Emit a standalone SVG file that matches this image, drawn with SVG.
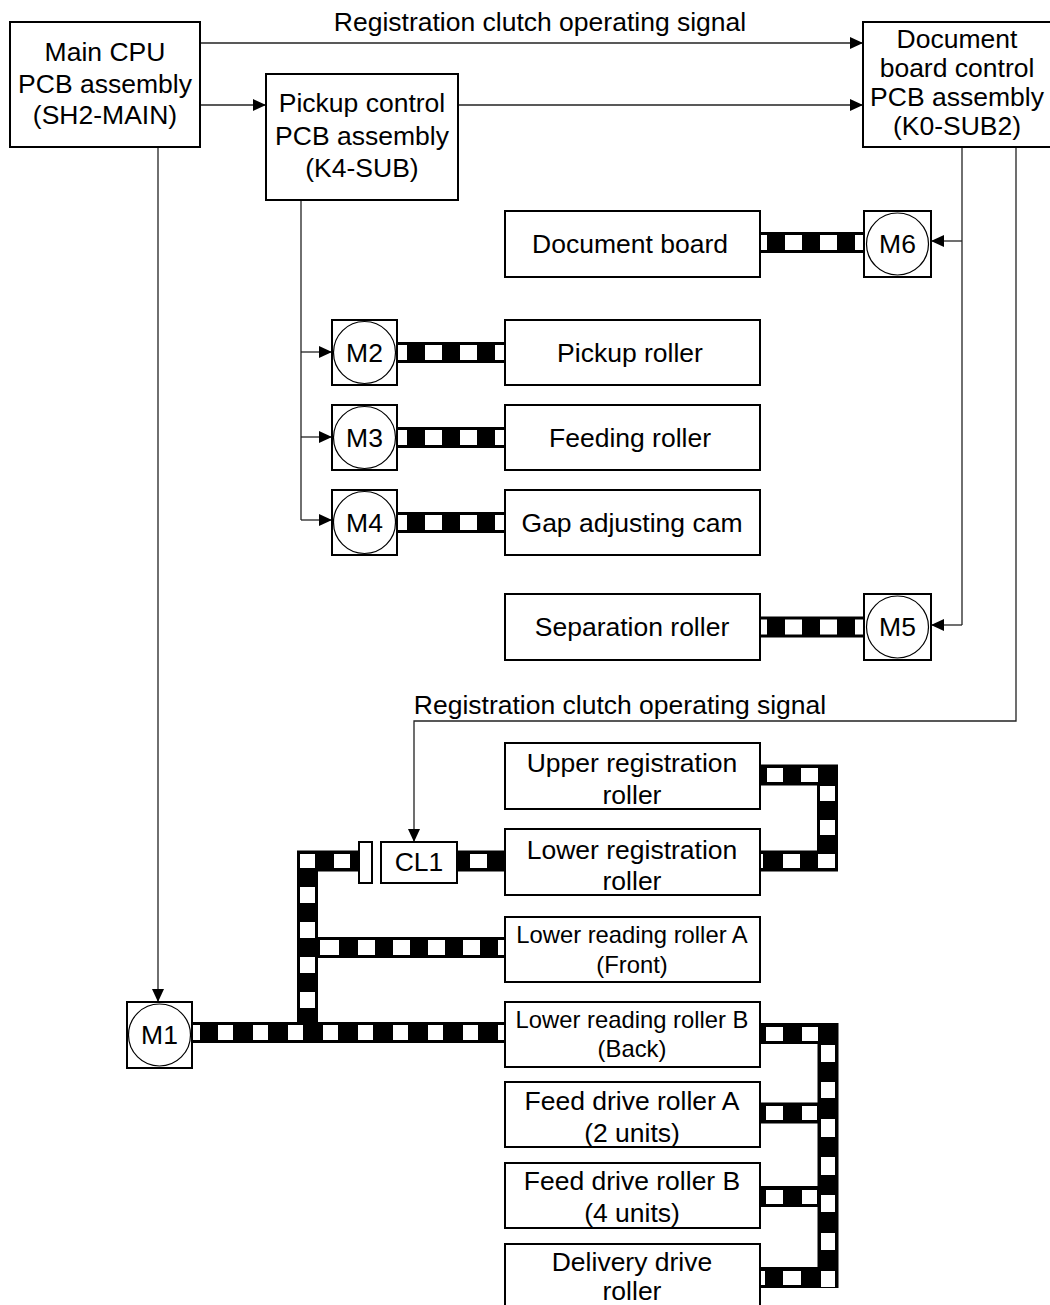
<svg xmlns="http://www.w3.org/2000/svg" width="1050" height="1305" viewBox="0 0 1050 1305">
<defs>
<style>
.box{fill:#fff;stroke:#000;stroke-width:2}
.mot{fill:#fff;stroke:#000;stroke-width:2}
.circ{fill:#fff;stroke:#000;stroke-width:1.2}
.t{font-family:"Liberation Sans",Arial,sans-serif;font-size:26.5px;text-anchor:middle;fill:#000}
.ts{font-family:"Liberation Sans",Arial,sans-serif;font-size:23.8px;text-anchor:middle;fill:#000}
.ln{fill:none;stroke:#222;stroke-width:1.3}
.belt{fill:none;stroke:#000;stroke-width:21;stroke-linejoin:miter}
.wd{fill:none;stroke:#fff;stroke-width:15;stroke-dasharray:17 18}
.w{fill:#fff}
</style>
<marker id="arr" markerWidth="13" markerHeight="12" refX="13" refY="6" orient="auto" markerUnits="userSpaceOnUse">
<path d="M0,0 L13,6 L0,12 Z" fill="#000"/>
</marker>
</defs>
<rect width="1050" height="1305" fill="#fff"/>

<g id="connectors">
<line class="ln" x1="200" y1="43" x2="863" y2="43" marker-end="url(#arr)"/>
<text class="t" x="540" y="31">Registration clutch operating signal</text>
<line class="ln" x1="200" y1="105" x2="266" y2="105" marker-end="url(#arr)"/>
<line class="ln" x1="458" y1="105" x2="863" y2="105" marker-end="url(#arr)"/>
<line class="ln" x1="158" y1="147" x2="158" y2="1002" marker-end="url(#arr)"/>
<polyline class="ln" points="301,200 301,520"/>
<line class="ln" x1="301" y1="352" x2="332" y2="352" marker-end="url(#arr)"/>
<line class="ln" x1="301" y1="437" x2="332" y2="437" marker-end="url(#arr)"/>
<line class="ln" x1="301" y1="520" x2="332" y2="520" marker-end="url(#arr)"/>
<polyline class="ln" points="962,147 962,625"/>
<line class="ln" x1="962" y1="241" x2="931" y2="241" marker-end="url(#arr)"/>
<line class="ln" x1="962" y1="625" x2="931" y2="625" marker-end="url(#arr)"/>
<polyline class="ln" points="1016,147 1016,721 414,721 414,842" marker-end="url(#arr)"/>
<text class="t" x="620" y="714">Registration clutch operating signal</text>
</g>

<g id="belts">
<line class="belt" x1="760" y1="242.5" x2="864" y2="242.5"/>
<line class="wd" x1="760" y1="242.5" x2="864" y2="242.5" stroke-dashoffset="10"/>
<line class="belt" x1="760" y1="627" x2="864" y2="627"/>
<line class="wd" x1="760" y1="627" x2="864" y2="627" stroke-dashoffset="10"/>
<line class="belt" x1="397" y1="352.5" x2="505" y2="352.5"/>
<line class="wd" x1="397" y1="352.5" x2="505" y2="352.5" stroke-dashoffset="7"/>
<line class="belt" x1="397" y1="437.5" x2="505" y2="437.5"/>
<line class="wd" x1="397" y1="437.5" x2="505" y2="437.5" stroke-dashoffset="7"/>
<line class="belt" x1="397" y1="522.5" x2="505" y2="522.5"/>
<line class="wd" x1="397" y1="522.5" x2="505" y2="522.5" stroke-dashoffset="7"/>

<path class="belt" d="M359,861 H307.5 V1033"/>
<line class="belt" x1="318" y1="947.5" x2="505" y2="947.5"/>
<line class="belt" x1="457" y1="861" x2="505" y2="861"/>
<line class="belt" x1="192" y1="1032.5" x2="505" y2="1032.5"/>
<rect class="w" x="300" y="854" width="15" height="14"/>
<rect class="w" x="334" y="854" width="16" height="14"/>
<rect class="w" x="300" y="887" width="15" height="16"/>
<rect class="w" x="300" y="922" width="15" height="16"/>
<rect class="w" x="300" y="957" width="15" height="16"/>
<rect class="w" x="300" y="992" width="15" height="16"/>
<rect class="w" x="320" y="940" width="19" height="15"/>
<rect class="w" x="358" y="940" width="17" height="15"/>
<rect class="w" x="393" y="940" width="17" height="15"/>
<rect class="w" x="428" y="940" width="17" height="15"/>
<rect class="w" x="463" y="940" width="17" height="15"/>
<rect class="w" x="498" y="940" width="7" height="15"/>
<rect class="w" x="470" y="854" width="17" height="14"/>
<rect class="w" x="193" y="1025" width="7" height="15"/>
<rect class="w" x="218" y="1025" width="15" height="15"/>
<rect class="w" x="253" y="1025" width="15" height="15"/>
<rect class="w" x="288" y="1025" width="15" height="15"/>
<rect class="w" x="323" y="1025" width="15" height="15"/>
<rect class="w" x="358" y="1025" width="15" height="15"/>
<rect class="w" x="393" y="1025" width="15" height="15"/>
<rect class="w" x="428" y="1025" width="15" height="15"/>
<rect class="w" x="463" y="1025" width="15" height="15"/>
<rect class="w" x="498" y="1025" width="7" height="15"/>

<path class="belt" d="M760,775 H827.5 V861 H760"/>
<rect class="w" x="767" y="768" width="16" height="14"/>
<rect class="w" x="801" y="768" width="17" height="14"/>
<rect class="w" x="820" y="786" width="15" height="15"/>
<rect class="w" x="820" y="820" width="15" height="15"/>
<rect class="w" x="760" y="854" width="3" height="14"/>
<rect class="w" x="783" y="854" width="17" height="14"/>
<rect class="w" x="818" y="854" width="17" height="14"/>

<path class="belt" d="M760,1033.5 H828 V1277.5 H760"/>
<line class="belt" x1="760" y1="1113" x2="828" y2="1113"/>
<line class="belt" x1="760" y1="1196.5" x2="828" y2="1196.5"/>
<rect class="w" x="766" y="1027" width="17" height="14"/>
<rect class="w" x="802" y="1027" width="16" height="14"/>
<rect class="w" x="821" y="1045" width="14" height="17"/>
<rect class="w" x="821" y="1082" width="14" height="16"/>
<rect class="w" x="821" y="1119" width="14" height="18"/>
<rect class="w" x="821" y="1157" width="14" height="18"/>
<rect class="w" x="821" y="1195" width="14" height="17"/>
<rect class="w" x="821" y="1233" width="14" height="17"/>
<rect class="w" x="821" y="1271" width="14" height="16"/>
<rect class="w" x="766" y="1106" width="17" height="14"/>
<rect class="w" x="802" y="1106" width="15" height="14"/>
<rect class="w" x="766" y="1190" width="17" height="14"/>
<rect class="w" x="802" y="1190" width="15" height="14"/>
<rect class="w" x="760" y="1271" width="5" height="14"/>
<rect class="w" x="783" y="1271" width="18" height="14"/>
</g>

<g id="main-cpu">
<rect class="box" x="10" y="22" width="190" height="125"/>
<text class="t" x="105" y="61">Main CPU</text>
<text class="t" x="105" y="93">PCB assembly</text>
<text class="t" x="105" y="124">(SH2-MAIN)</text>
</g>
<g id="pickup-control">
<rect class="box" x="266" y="74" width="192" height="126"/>
<text class="t" x="362" y="112">Pickup control</text>
<text class="t" x="362" y="145">PCB assembly</text>
<text class="t" x="362" y="177">(K4-SUB)</text>
</g>
<g id="doc-board-control">
<rect class="box" x="863" y="22" width="189" height="125"/>
<text class="t" x="957" y="48">Document</text>
<text class="t" x="957" y="77">board control</text>
<text class="t" x="957" y="106">PCB assembly</text>
<text class="t" x="957" y="135">(K0-SUB2)</text>
</g>

<g id="document-board">
<rect class="box" x="505" y="211" width="255" height="66"/>
<text class="t" x="630" y="253">Document board</text>
</g>
<g id="m6">
<rect class="mot" x="864" y="211" width="67" height="66"/>
<circle class="circ" cx="897.5" cy="244" r="31"/>
<text class="t" x="897.5" y="253">M6</text>
</g>
<g id="m2">
<rect class="mot" x="332" y="320" width="65" height="65"/>
<circle class="circ" cx="364.5" cy="352.5" r="31"/>
<text class="t" x="364.5" y="362">M2</text>
</g>
<g id="pickup-roller">
<rect class="box" x="505" y="320" width="255" height="65"/>
<text class="t" x="630" y="362">Pickup roller</text>
</g>
<g id="m3">
<rect class="mot" x="332" y="405" width="65" height="65"/>
<circle class="circ" cx="364.5" cy="437.5" r="31"/>
<text class="t" x="364.5" y="447">M3</text>
</g>
<g id="feeding-roller">
<rect class="box" x="505" y="405" width="255" height="65"/>
<text class="t" x="630" y="447">Feeding roller</text>
</g>
<g id="m4">
<rect class="mot" x="332" y="490" width="65" height="65"/>
<circle class="circ" cx="364.5" cy="522.5" r="31"/>
<text class="t" x="364.5" y="532">M4</text>
</g>
<g id="gap-cam">
<rect class="box" x="505" y="490" width="255" height="65"/>
<text class="t" x="632" y="532">Gap adjusting cam</text>
</g>
<g id="separation-roller">
<rect class="box" x="505" y="594" width="255" height="66"/>
<text class="t" x="632" y="636">Separation roller</text>
</g>
<g id="m5">
<rect class="mot" x="864" y="594" width="67" height="66"/>
<circle class="circ" cx="897.5" cy="627" r="31"/>
<text class="t" x="897.5" y="636">M5</text>
</g>

<g id="upper-reg">
<rect class="box" x="505" y="743" width="255" height="66"/>
<text class="t" x="632" y="772">Upper registration</text>
<text class="t" x="632" y="804">roller</text>
</g>
<g id="lower-reg">
<rect class="box" x="505" y="829" width="255" height="66"/>
<text class="t" x="632" y="859">Lower registration</text>
<text class="t" x="632" y="890">roller</text>
</g>
<g id="cl1">
<rect class="box" x="359" y="842" width="13" height="41"/>
<rect class="box" x="381" y="842" width="76" height="41"/>
<text class="t" x="419" y="871">CL1</text>
</g>
<g id="lower-read-a">
<rect class="box" x="505" y="917" width="255" height="65"/>
<text class="ts" x="632" y="943">Lower reading roller A</text>
<text class="ts" x="632" y="973">(Front)</text>
</g>
<g id="lower-read-b">
<rect class="box" x="505" y="1002" width="255" height="65"/>
<text class="ts" x="632" y="1028">Lower reading roller B</text>
<text class="ts" x="632" y="1057">(Back)</text>
</g>
<g id="m1">
<rect class="mot" x="127" y="1002" width="65" height="66"/>
<circle class="circ" cx="159.5" cy="1035" r="31"/>
<text class="t" x="159.5" y="1044">M1</text>
</g>
<g id="feed-drive-a">
<rect class="box" x="505" y="1082" width="255" height="65"/>
<text class="t" x="632" y="1110">Feed drive roller A</text>
<text class="t" x="632" y="1142">(2 units)</text>
</g>
<g id="feed-drive-b">
<rect class="box" x="505" y="1163" width="255" height="65"/>
<text class="t" x="632" y="1190">Feed drive roller B</text>
<text class="t" x="632" y="1222">(4 units)</text>
</g>
<g id="delivery-drive">
<rect class="box" x="505" y="1244" width="255" height="70"/>
<text class="t" x="632" y="1271">Delivery drive</text>
<text class="t" x="632" y="1300">roller</text>
</g>
</svg>
